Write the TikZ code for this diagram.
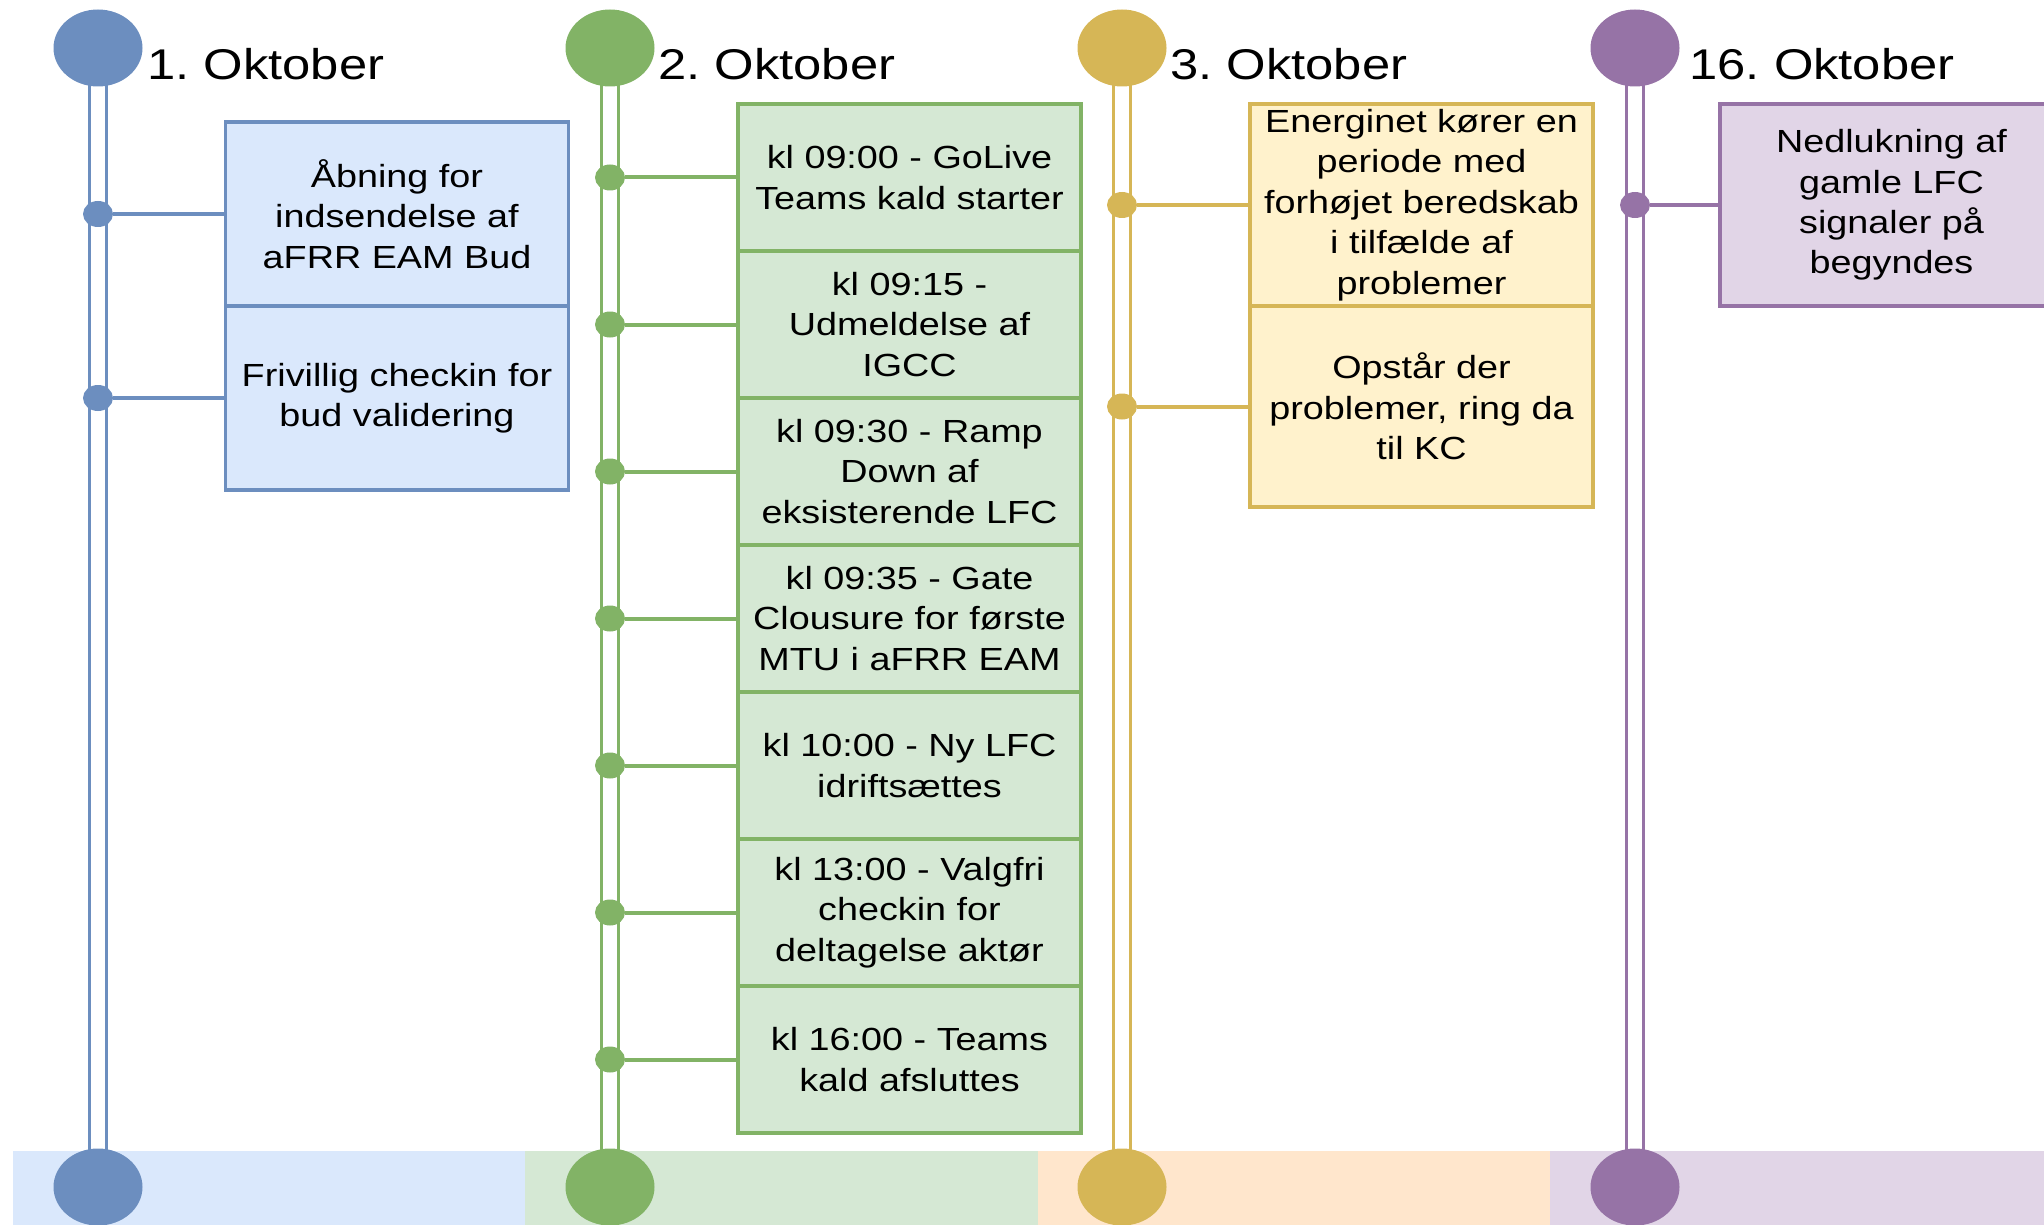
\documentclass[tikz,border=0pt]{standalone}
\usepackage{fontspec}
\setmainfont{Liberation Sans}[FakeStretch=1.18]
\usetikzlibrary{shapes.geometric,backgrounds}
\definecolor{blueS}{HTML}{6C8EBF}
\definecolor{blueF}{HTML}{DAE8FC}
\definecolor{greenS}{HTML}{82B366}
\definecolor{greenF}{HTML}{D5E8D4}
\definecolor{yelS}{HTML}{D6B656}
\definecolor{yelF}{HTML}{FFF2CC}
\definecolor{purS}{HTML}{9673A6}
\definecolor{purF}{HTML}{E1D5E7}
\definecolor{orangeF}{HTML}{FFE6CC}
\newcommand\boxfont{\fontsize{16pt}{20.2pt}\selectfont}
\newcommand\dayfont{\fontsize{21.5pt}{26pt}\selectfont}
\frenchspacing
\begin{document}
\begin{tikzpicture}[x=0.5pt,y=-0.5pt,
  dotS/.style={ellipse, fill=#1, minimum width=15pt, minimum height=13pt, inner sep=0pt},
  bigE/.style={ellipse, fill=#1, minimum width=44.5pt, minimum height=38.5pt, inner sep=0pt},
  evbox/.style 2 args={rectangle, draw=#1, fill=#2, line width=1.75pt, minimum width=171.5pt, align=center, inner sep=0pt, font=\boxfont},
  conn/.style={draw=#1, line width=2pt},
  spine/.style={draw=#1, line width=1.6pt, double=white, double distance=6.8pt},
  daylabel/.style={anchor=base west, font=\dayfont, inner sep=0pt}
]
\useasboundingbox (0,0) rectangle (2044,1225);
\clip (0,0) rectangle (2044,1225);

% top and bottom markers
\node[bigE=blueS]  (t1) at (98,48) {};
\node[bigE=greenS] (t2) at (610,48) {};
\node[bigE=yelS]   (t3) at (1122,48) {};
\node[bigE=purS]   (t4) at (1635,48) {};
\node[bigE=blueS]  (b1) at (98,1187) {};
\node[bigE=greenS] (b2) at (610,1187) {};
\node[bigE=yelS]   (b3) at (1122,1187) {};
\node[bigE=purS]   (b4) at (1635,1187) {};

\begin{pgfonlayer}{background}
  \fill[blueF]   (13,1151) rectangle (525,1225);
  \fill[greenF]  (525,1151) rectangle (1038,1225);
  \fill[orangeF] (1038,1151) rectangle (1550,1225);
  \fill[purF]    (1550,1151) rectangle (2044,1225);
  \draw[spine=blueS]  (t1.center) -- (b1.center);
  \draw[spine=greenS] (t2.center) -- (b2.center);
  \draw[spine=yelS]   (t3.center) -- (b3.center);
  \draw[spine=purS]   (t4.center) -- (b4.center);
\end{pgfonlayer}

% day labels
\node[daylabel] (l1) at (147,80) {1. Oktober};
\node[daylabel] (l2) at (658,80) {2. Oktober};
\node[daylabel] (l3) at (1170,80) {3. Oktober};
\node[daylabel] (l4) at (1689,80) {16. Oktober};

% 1. Oktober
\node[evbox={blueS}{blueF}, minimum height=92pt] (e11) at (397,214) {Åbning for\\indsendelse af\\aFRR EAM Bud};
\node[evbox={blueS}{blueF}, minimum height=92pt] (e12) at (397,398) {Frivillig checkin for\\bud validering};
\node[dotS=blueS] (d11) at (98,214) {};
\node[dotS=blueS] (d12) at (98,398) {};
\draw[conn=blueS] (d11) -- (e11);
\draw[conn=blueS] (d12) -- (e12);

% 2. Oktober
\node[evbox={greenS}{greenF}, minimum height=73.5pt] (e21) at (909.5,177.5) {kl 09:00 - GoLive\\Teams kald starter};
\node[evbox={greenS}{greenF}, minimum height=73.5pt] (e22) at (909.5,324.5) {kl 09:15 -\\Udmeldelse af\\IGCC};
\node[evbox={greenS}{greenF}, minimum height=73.5pt] (e23) at (909.5,471.5) {kl 09:30 - Ramp\\Down af\\eksisterende LFC};
\node[evbox={greenS}{greenF}, minimum height=73.5pt] (e24) at (909.5,618.5) {kl 09:35 - Gate\\Clousure for første\\MTU i aFRR EAM};
\node[evbox={greenS}{greenF}, minimum height=73.5pt] (e25) at (909.5,765.5) {kl 10:00 - Ny LFC\\idriftsættes};
\node[evbox={greenS}{greenF}, minimum height=73.5pt] (e26) at (909.5,912.5) {kl 13:00 - Valgfri\\checkin for\\deltagelse aktør};
\node[evbox={greenS}{greenF}, minimum height=73.5pt] (e27) at (909.5,1059.5) {kl 16:00 - Teams\\kald afsluttes};
\node[dotS=greenS] (d21) at (610,177.5) {};
\node[dotS=greenS] (d22) at (610,324.5) {};
\node[dotS=greenS] (d23) at (610,471.5) {};
\node[dotS=greenS] (d24) at (610,618.5) {};
\node[dotS=greenS] (d25) at (610,765.5) {};
\node[dotS=greenS] (d26) at (610,912.5) {};
\node[dotS=greenS] (d27) at (610,1059.5) {};
\foreach \i in {1,...,7} {\draw[conn=greenS] (d2\i) -- (e2\i);}

% 3. Oktober
\node[evbox={yelS}{yelF}, minimum height=101pt] (e31) at (1421.5,205) {Energinet kører en\\periode med\\forhøjet beredskab\\i tilfælde af\\problemer};
\node[evbox={yelS}{yelF}, minimum height=100.5pt] (e32) at (1421.5,406.5) {Opstår der\\problemer, ring da\\til KC};
\node[dotS=yelS] (d31) at (1122,205) {};
\node[dotS=yelS] (d32) at (1122,406.5) {};
\draw[conn=yelS] (d31) -- (e31);
\draw[conn=yelS] (d32) -- (e32);

% 16. Oktober
\node[evbox={purS}{purF}, minimum height=101pt] (e41) at (1891.5,205) {Nedlukning af\\gamle LFC\\signaler på\\begyndes};
\node[dotS=purS] (d41) at (1635,205) {};
\draw[conn=purS] (d41) -- (e41);
\end{tikzpicture}
\end{document}
